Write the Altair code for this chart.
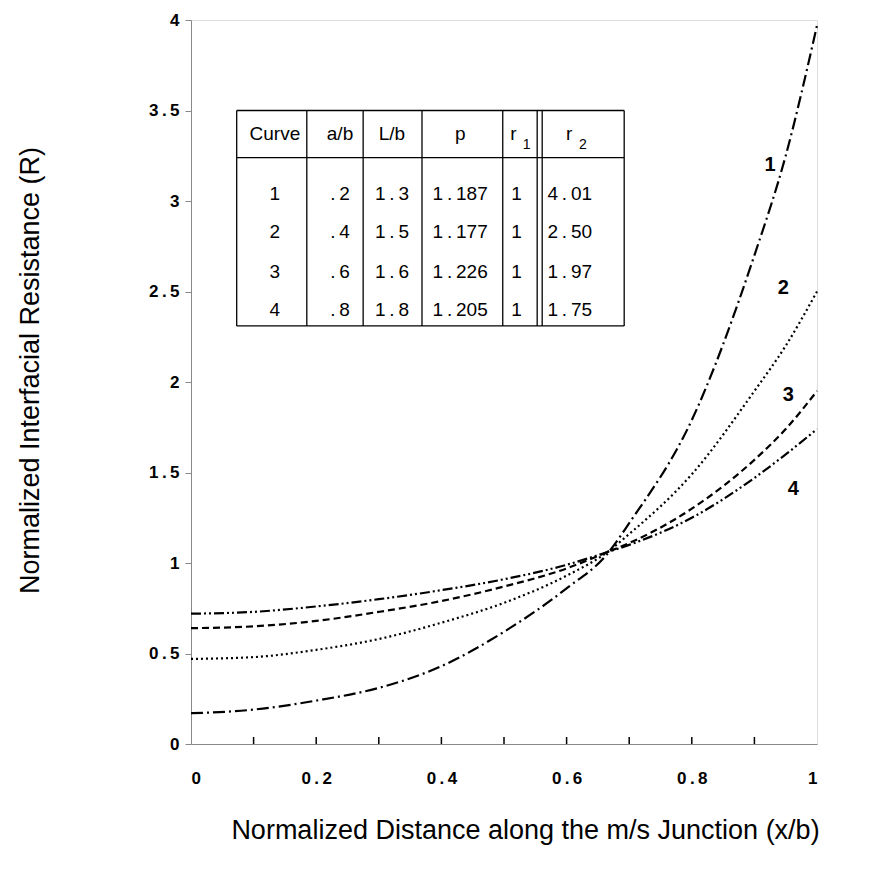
import altair as alt
import pandas as pd

# ---- data ----
x_vals = [0, 0.1, 0.2, 0.3, 0.4, 0.5, 0.6, 0.665, 0.7, 0.8, 0.9, 0.95, 1.0]
curve1 = [0.17, 0.19, 0.24, 0.31, 0.43, 0.62, 0.86, 1.05, 1.22, 1.79, 2.70, 3.25, 3.97]
curve2 = [0.47, 0.48, 0.52, 0.58, 0.67, 0.78, 0.93, 1.06, 1.16, 1.49, 1.95, 2.20, 2.50]
curve3 = [0.64, 0.65, 0.68, 0.73, 0.79, 0.87, 0.97, 1.06, 1.11, 1.30, 1.57, 1.74, 1.95]
curve4 = [0.72, 0.73, 0.76, 0.80, 0.85, 0.91, 0.99, 1.06, 1.10, 1.25, 1.47, 1.60, 1.74]

curve_names = ["1", "2", "3", "4"]
label_x = [0.925, 0.946, 0.954, 0.962]
label_y = [3.20, 2.52, 1.93, 1.41]

headers = ["Curve", "a/b", "L/b", "p", "r", "r"]
header_subs = ["1", "2"]
col_curve = ["1", "2", "3", "4"]
col_ab = [".2", ".4", ".6", ".8"]
col_Lb = ["1.3", "1.5", "1.6", "1.8"]
col_p = ["1.187", "1.177", "1.226", "1.205"]
col_r1 = ["1", "1", "1", "1"]
col_r2 = ["4.01", "2.50", "1.97", "1.75"]

y_ticks = [0, 0.5, 1, 1.5, 2, 2.5, 3, 3.5, 4]
x_labels = [0, 0.2, 0.4, 0.6, 0.8, 1]
x_minor = [0.1, 0.2, 0.3, 0.4, 0.5, 0.6, 0.7, 0.8, 0.9]

# ---- layout of the inset table (data coordinates) ----
tbl_left, tbl_right = 0.073, 0.692
tbl_top, tbl_head_line, tbl_bottom = 3.50, 3.24, 2.31
tbl_vlines = [0.073, 0.185, 0.275, 0.369, 0.498, 0.553, 0.561, 0.692]
col_centers = [0.134, 0.238, 0.321, 0.430, 0.520, 0.605]
header_x = [0.134, 0.238, 0.321, 0.430, 0.515, 0.604]
sub_x = [0.536, 0.626]
header_y = 3.37
sub_y = 3.31
row_y = [3.04, 2.83, 2.61, 2.40]

FONT = "Liberation Sans"
W, H = 626, 724
LABEL_EXPR = "replace(format(datum.value, '~g'), '.', '\u2009.\u2009')"


def spaced(s):
    return s.replace(".", "\u2009.\u2009")


rows = []
for name, ys in zip(curve_names, [curve1, curve2, curve3, curve4]):
    for xv, yv in zip(x_vals, ys):
        rows.append({"curve": name, "x": xv, "R": yv})
df = pd.DataFrame(rows)

xs = alt.Scale(domain=[0, 1], nice=False, zero=False)
ys_ = alt.Scale(domain=[0, 4], nice=False, zero=False)

lines = alt.Chart(df).mark_line(interpolate="monotone", strokeWidth=2.2, color="black").encode(
    x=alt.X("x:Q", scale=xs, axis=alt.Axis(
        values=x_labels, ticks=False, labelPadding=26, labelFontSize=17, labelFontWeight="bold",
        labelExpr=LABEL_EXPR,
        title="Normalized Distance along the m/s Junction (x/b)",
        titleX=334, titleY=86, titleFontSize=27, titleFontWeight="normal",
        titleBaseline="middle", titleAlign="center", grid=False)),
    y=alt.Y("R:Q", scale=ys_, axis=alt.Axis(
        values=y_ticks, tickSize=6, labelPadding=6, labelFontSize=17, labelFontWeight="bold",
        labelExpr=LABEL_EXPR,
        title="Normalized Interfacial Resistance (R)",
        titleX=-161, titleY=350, titleFontSize=27, titleFontWeight="normal",
        titleBaseline="middle", titleAlign="center", grid=False)),
    strokeDash=alt.StrokeDash("curve:N", scale=alt.Scale(
        domain=curve_names,
        range=[[12, 4, 2, 4], [2, 3], [7, 4], [10, 3, 2, 3, 2, 3]]), legend=None),
    detail="curve:N",
)

lab_df = pd.DataFrame({"t": curve_names, "x": label_x, "y": label_y})
curve_labels = alt.Chart(lab_df).mark_text(font=FONT, fontSize=20, fontWeight="bold", color="black").encode(
    x=alt.X("x:Q", scale=xs), y=alt.Y("y:Q", scale=ys_), text="t:N")

# minor inward ticks on x axis
tick_df = pd.DataFrame({"x": x_minor})
x_ticks = alt.Chart(tick_df).mark_rule(color="black", strokeWidth=1.5).encode(
    x=alt.X("x:Q", scale=xs), y=alt.value(H), y2=alt.value(H - 7))

# table lines
h_df = pd.DataFrame({"y": [tbl_top, tbl_head_line, tbl_bottom], "x": tbl_left, "x2": tbl_right})
h_lines = alt.Chart(h_df).mark_rule(color="black", strokeWidth=1.3).encode(
    x=alt.X("x:Q", scale=xs), x2="x2:Q", y=alt.Y("y:Q", scale=ys_))
v_df = pd.DataFrame({"x": tbl_vlines, "y": tbl_bottom, "y2": tbl_top})
v_lines = alt.Chart(v_df).mark_rule(color="black", strokeWidth=1.3).encode(
    x=alt.X("x:Q", scale=xs), y=alt.Y("y:Q", scale=ys_), y2="y2:Q")

# table text
cells = []
for hx, h in zip(header_x, headers):
    cells.append({"x": hx, "y": header_y, "t": h})
cols = [col_curve, col_ab, col_Lb, col_p, col_r1, col_r2]
for cx, col in zip(col_centers, cols):
    for ry, v in zip(row_y, col):
        cells.append({"x": cx, "y": ry, "t": spaced(v)})
cell_df = pd.DataFrame(cells)
table_text = alt.Chart(cell_df).mark_text(font=FONT, fontSize=19, color="black").encode(
    x=alt.X("x:Q", scale=xs), y=alt.Y("y:Q", scale=ys_), text="t:N")

sub_df = pd.DataFrame({"x": sub_x, "y": sub_y, "t": header_subs})
sub_text = alt.Chart(sub_df).mark_text(font=FONT, fontSize=14, color="black").encode(
    x=alt.X("x:Q", scale=xs), y=alt.Y("y:Q", scale=ys_), text="t:N")

chart = alt.layer(lines, curve_labels, x_ticks, h_lines, v_lines, table_text, sub_text).properties(
    width=W, height=H, autosize="none",
    padding={"left": 183, "top": 12, "right": 60, "bottom": 118},
).configure_view(stroke="black", strokeWidth=1.5).configure_axis(
    domainColor="black", domainWidth=2, tickColor="black", tickWidth=1.5,
    labelColor="black", titleColor="black", labelFont=FONT, titleFont=FONT,
).configure(background="white")

chart.save("out.html", embed_options={"renderer": "svg", "actions": False})
